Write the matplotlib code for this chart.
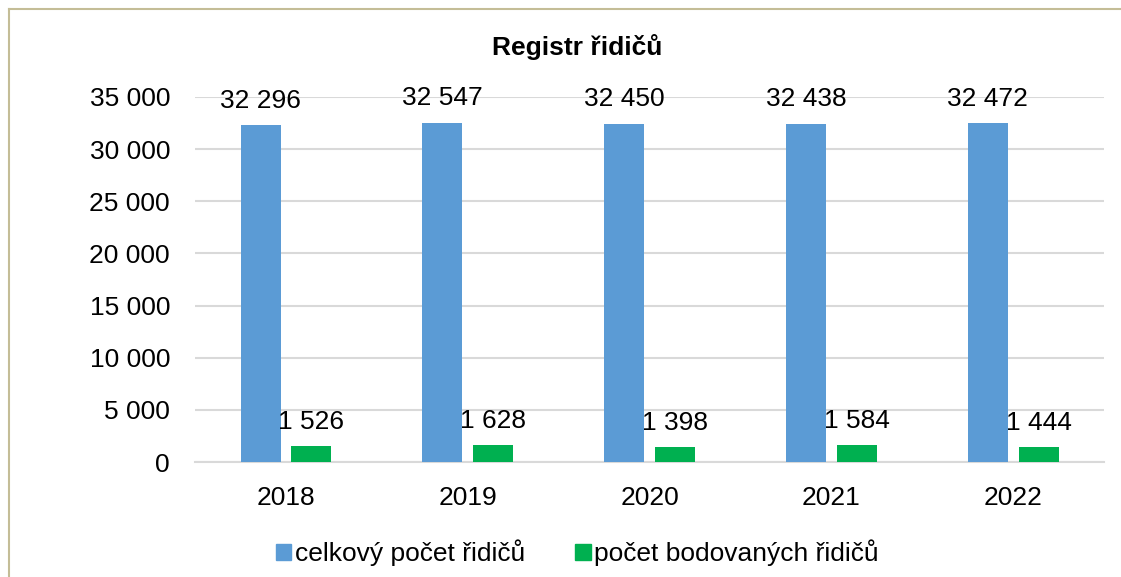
import numpy as np
import matplotlib
matplotlib.use("Agg")
import matplotlib.pyplot as plt
from matplotlib.lines import Line2D
from matplotlib.patches import Patch

plt.rcParams['font.family'] = ['Liberation Sans', 'DejaVu Sans']

# Data
years = ["2018", "2019", "2020", "2021", "2022"]
celkovy = [32296, 32547, 32450, 32438, 32472]
bodovani = [1526, 1628, 1398, 1584, 1444]
yticks = [0, 5000, 10000, 15000, 20000, 25000, 30000, 35000]

blue = "#5b9bd5"
green = "#00b050"
grid_col = "#d9d9d9"
fs = 19


def fmt(v):
    return f"{v:,}".replace(",", " ")


fig = plt.figure(figsize=(11.21, 5.77), dpi=100)
ax = fig.add_axes([0.174, 0.1993, 0.811, 0.6326])

x = np.arange(len(years))
w = 0.22
b1 = ax.bar(x - 0.14, celkovy, w, color=blue, zorder=3)
b2 = ax.bar(x + 0.14, bodovani, w, color=green, zorder=3)

for bars, vals in ((b1, celkovy), (b2, bodovani)):
    for r, v in zip(bars, vals):
        ax.annotate(fmt(v), (r.get_x() + r.get_width() / 2, r.get_height()),
                    xytext=(0, 12.5), textcoords="offset points",
                    ha="center", va="baseline", fontsize=fs, zorder=4)

ax.set_xlim(-0.5, len(years) - 0.5)
ax.set_ylim(0, 35000)
ax.set_yticks(yticks)
ax.set_yticklabels([fmt(t) for t in yticks])
ax.set_xticks(x)
ax.set_xticklabels(years)
ax.tick_params(axis="both", length=0, labelsize=fs)
ax.tick_params(axis="y", pad=18)
ax.tick_params(axis="x", pad=17)
ax.yaxis.grid(True, color=grid_col, linewidth=1.5, zorder=0)
for s in ["top", "right", "left"]:
    ax.spines[s].set_visible(False)
ax.spines["bottom"].set_color(grid_col)
ax.spines["bottom"].set_linewidth(1.5)
ax.spines["bottom"].set_zorder(2)

fig.text(0.515, 0.918, "Registr řidičů", ha="center", va="center",
         fontsize=fs, fontweight="bold")

handles = [Patch(color=blue, label="celkový počet řidičů"),
           Patch(color=green, label="počet bodovaných řidičů")]
fig.legend(handles=handles, loc="center", bbox_to_anchor=(0.515, 0.042),
           ncol=2, frameon=False, fontsize=fs, handlelength=0.58,
           handleheight=0.58, handletextpad=0.15, columnspacing=1.9)

# outer border (top and left)
border = "#c4bd97"
fig.add_artist(Line2D([0.0078, 0.0078], [0, 0.984], color=border,
                      linewidth=1.5, transform=fig.transFigure))
fig.add_artist(Line2D([0.0078, 1], [0.984, 0.984], color=border,
                      linewidth=1.5, transform=fig.transFigure))

fig.savefig("out.png", dpi=100)
